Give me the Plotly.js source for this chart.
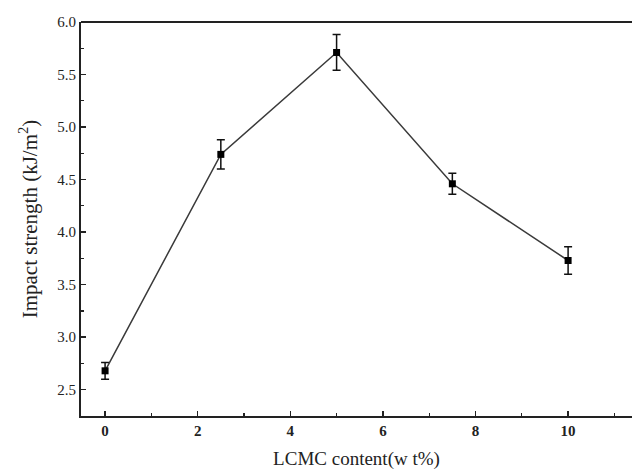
<!DOCTYPE html>
<html>
<head>
<meta charset="utf-8">
<script src="https://cdn.plot.ly/plotly-3.0.1.min.js"></script>
<style>html,body{margin:0;padding:0;background:#fff;}</style>
</head>
<body>
<div id="chart" style="width:632px;height:476px;"></div>
<script>
const lcmcContent = [0, 2.5, 5, 7.5, 10];
const impactStrength = [2.68, 4.74, 5.71, 4.46, 3.73];
const errorValues = [0.08, 0.14, 0.17, 0.10, 0.13];
const yTickVals = [2.5, 3.0, 3.5, 4.0, 4.5, 5.0, 5.5, 6.0];
const yTickText = ['2.5', '3.0', '3.5', '4.0', '4.5', '5.0', '5.5', '6.0'];
const xTickVals = [0, 2, 4, 6, 8, 10];

const font = {family: 'Liberation Serif, Times New Roman, serif', color: '#222'};

Plotly.newPlot('chart', [{
  x: lcmcContent,
  y: impactStrength,
  type: 'scatter',
  mode: 'lines+markers',
  line: {color: '#3a3a3a', width: 1.5},
  marker: {symbol: 'square', size: 7, color: '#000'},
  error_y: {type: 'data', array: errorValues, visible: true, color: '#111', thickness: 1.5, width: 4},
  showlegend: false
}], {
  width: 632, height: 476,
  margin: {l: 81, r: 0, t: 22, b: 60},
  paper_bgcolor: '#fff', plot_bgcolor: '#fff',
  font: font,
  shapes: [{type: 'line', xref: 'paper', yref: 'paper', x0: 0, x1: 1, y0: 1, y1: 1, line: {color: '#222', width: 2}}],
  xaxis: {
    range: [-0.52, 11.38],
    tickvals: xTickVals,
    ticks: 'inside', ticklen: 5, tickwidth: 1.5, tickcolor: '#222',
    minor: {ticks: 'inside', dtick: 1, ticklen: 3, tickwidth: 1.2, tickcolor: '#222'},
    showline: true, linecolor: '#222', linewidth: 2, mirror: false,
    showgrid: false, zeroline: false,
    tickfont: {family: font.family, size: 15, color: '#222', weight: 'bold'},
    title: {text: 'LCMC content(w t%)', font: {family: font.family, size: 19, color: '#222'}, standoff: 14}
  },
  yaxis: {
    range: [2.25, 6.0],
    tickvals: yTickVals, ticktext: yTickText,
    ticks: 'inside', ticklen: 5, tickwidth: 1.5, tickcolor: '#222',
    minor: {ticks: 'inside', dtick: 0.25, ticklen: 3, tickwidth: 1.2, tickcolor: '#222'},
    showline: true, linecolor: '#222', linewidth: 2, mirror: false,
    showgrid: false, zeroline: false,
    tickfont: {family: font.family, size: 15, color: '#222'},
    title: {text: 'Impact strength (kJ/m<sup>2</sup>)', font: {family: font.family, size: 21, color: '#222'}, standoff: 14}
  }
}, {staticPlot: true});
</script>
</body>
</html>
